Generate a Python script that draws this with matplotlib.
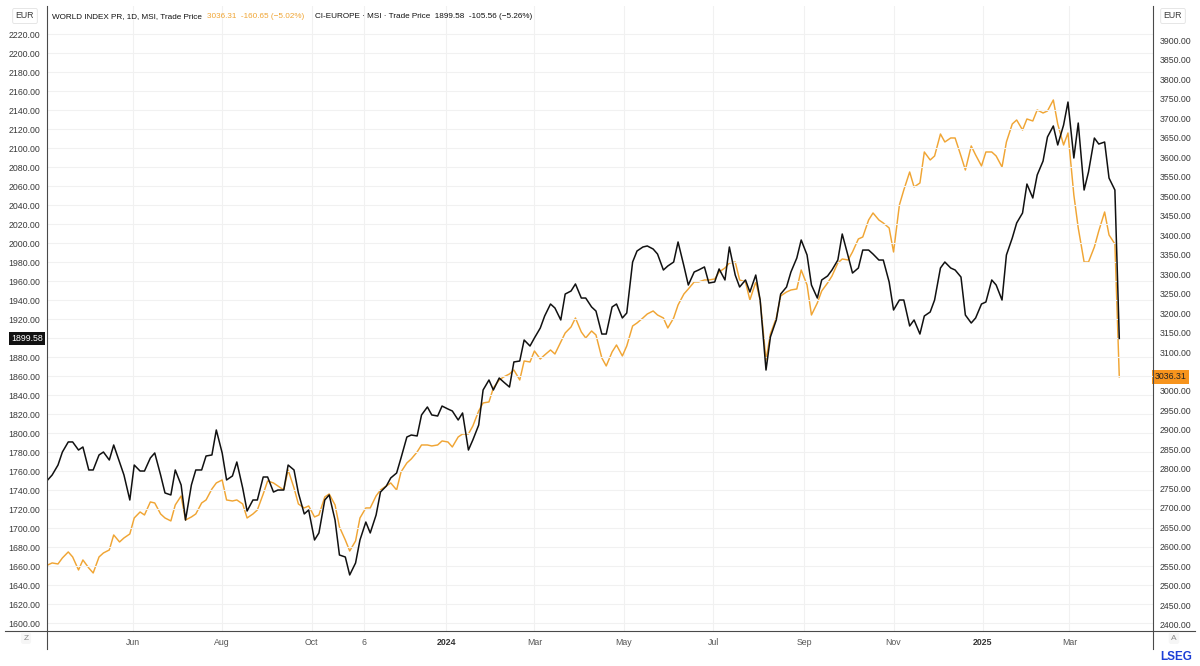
import pandas as pd
import matplotlib
matplotlib.use("Agg")
import matplotlib.pyplot as plt
import matplotlib.dates as mdates
from matplotlib.lines import Line2D

plt.rcParams['font.family'] = ['Liberation Sans', 'DejaVu Sans']

# -----------------------------
# Data: Tuesday and Friday closes, 4 Apr 2023 - 4 Apr 2025
# -----------------------------
tue = pd.date_range('2023-04-04', '2025-04-04', freq='W-TUE')
fri = pd.date_range('2023-04-04', '2025-04-04', freq='W-FRI')
dates = tue.union(fri)

# CI-EUROPE (left axis, EUR)
europe = [
    1750.6, 1755.8, 1766.3, 1780.0, 1790.6, 1790.6, 1782.1, 1785.3, 1761.1, 1761.1,
    1776.9, 1780.0, 1771.6, 1787.4, 1769.5, 1755.8, 1729.5, 1766.3, 1760.0, 1760.0,
    1773.7, 1779.0, 1755.8, 1736.9, 1734.8, 1761.1, 1745.3, 1708.4, 1745.3, 1761.1,
    1761.1, 1775.8, 1776.9, 1803.2, 1779.0, 1750.6, 1754.8, 1769.5, 1742.1, 1717.9,
    1729.5, 1729.5, 1753.7, 1753.7, 1737.9, 1740.0, 1740.0, 1766.3, 1761.1, 1736.9,
    1714.8, 1719.0, 1687.4, 1694.8, 1729.5, 1734.8, 1708.4, 1671.6, 1669.5, 1650.6,
    1663.2, 1687.4, 1706.3, 1694.8, 1713.7, 1737.9, 1744.2, 1752.7, 1757.9, 1773.7,
    1795.8, 1797.9, 1796.9, 1819.0, 1827.4, 1819.0, 1817.9, 1828.4, 1825.3, 1823.2,
    1813.7, 1821.1, 1782.1, 1792.7, 1808.4, 1845.3, 1855.8, 1845.3, 1857.9, 1853.7,
    1848.4, 1874.8, 1875.8, 1897.9, 1891.6, 1900.0, 1910.5, 1923.2, 1935.8, 1931.6,
    1919.0, 1946.3, 1949.5, 1956.9, 1942.1, 1942.1, 1932.7, 1928.4, 1904.2, 1904.2,
    1932.7, 1935.8, 1921.1, 1926.3, 1980.0, 1991.6, 1995.8, 1996.9, 1993.7, 1988.4,
    1971.6, 1975.8, 1980.0, 2001.1, 1975.8, 1955.8, 1969.5, 1971.6, 1974.8, 1957.9,
    1959.0, 1972.7, 1961.1, 1995.8, 1966.3, 1953.7, 1961.1, 1948.4, 1966.3, 1940.0,
    1866.3, 1901.1, 1919.0, 1946.3, 1953.7, 1969.5, 1984.2, 2003.2, 1987.4, 1955.8,
    1942.1, 1961.1, 1965.3, 1971.6, 1982.1, 2009.5, 1986.3, 1968.4, 1973.7, 1992.6,
    1992.6, 1988.4, 1982.1, 1982.1, 1959.0, 1929.5, 1940.0, 1940.0, 1912.7, 1919.0,
    1904.2, 1923.2, 1927.4, 1940.0, 1973.7, 1980.0, 1973.7, 1971.6, 1964.2, 1924.2,
    1915.8, 1921.1, 1935.8, 1937.9, 1961.1, 1955.8, 1940.0, 1987.4, 2005.3, 2021.1,
    2031.6, 2062.1, 2047.4, 2071.6, 2086.3, 2111.6, 2123.2, 2103.2, 2124.2, 2148.4,
    2089.5, 2126.3, 2055.8, 2074.8, 2110.5, 2104.2, 2106.3, 2068.4, 2055.8, 1899.58,
]

# WORLD INDEX PR (right axis, EUR)
world = [
    2553.9, 2559.1, 2556.5, 2571.9, 2587.3, 2574.5, 2541.1, 2566.8, 2546.2, 2533.4,
    2574.5, 2584.7, 2592.4, 2630.9, 2612.9, 2623.2, 2633.4, 2674.4, 2689.8, 2682.1,
    2715.5, 2712.9, 2684.7, 2674.4, 2666.8, 2707.8, 2730.9, 2669.3, 2677.0, 2684.7,
    2712.9, 2720.6, 2748.8, 2764.2, 2771.9, 2720.6, 2718.0, 2720.6, 2710.3, 2674.4,
    2684.7, 2695.0, 2736.0, 2769.3, 2764.2, 2756.5, 2746.2, 2797.5, 2751.4, 2710.3,
    2700.1, 2705.2, 2677.0, 2682.1, 2728.3, 2736.0, 2707.8, 2651.4, 2618.0, 2589.8,
    2615.5, 2674.4, 2700.1, 2700.1, 2730.9, 2746.2, 2756.5, 2764.2, 2746.2, 2792.4,
    2815.5, 2825.7, 2843.7, 2861.6, 2861.6, 2859.1, 2861.6, 2871.9, 2869.3, 2856.5,
    2882.1, 2889.8, 2889.8, 2910.3, 2948.8, 2969.3, 2971.9, 3007.8, 3028.3, 3036.0,
    3043.7, 3053.9, 3028.3, 3077.0, 3074.4, 3102.6, 3082.1, 3092.4, 3105.2, 3094.9,
    3125.7, 3148.8, 3164.2, 3187.2, 3151.4, 3136.0, 3153.9, 3143.7, 3084.7, 3064.2,
    3100.1, 3118.0, 3089.8, 3115.5, 3166.7, 3174.4, 3187.2, 3197.5, 3205.2, 3194.9,
    3187.2, 3161.6, 3187.2, 3220.6, 3248.8, 3261.6, 3279.6, 3279.6, 3284.7, 3284.7,
    3287.2, 3305.2, 3315.4, 3328.3, 3330.8, 3284.7, 3279.6, 3233.4, 3279.6, 3233.4,
    3079.6, 3146.2, 3187.2, 3243.7, 3253.9, 3259.0, 3261.6, 3310.3, 3271.9, 3194.9,
    3225.7, 3256.5, 3277.0, 3294.9, 3328.3, 3338.5, 3336.0, 3356.5, 3389.8, 3394.9,
    3438.5, 3456.5, 3438.5, 3430.8, 3418.0, 3356.5, 3477.0, 3515.4, 3561.6, 3523.1,
    3533.4, 3612.9, 3592.4, 3602.6, 3659.0, 3638.5, 3648.8, 3648.8, 3602.6, 3566.7,
    3628.3, 3605.2, 3577.0, 3612.9, 3612.9, 3602.6, 3574.4, 3638.5, 3684.7, 3694.9,
    3669.3, 3697.5, 3692.4, 3720.6, 3712.9, 3718.0, 3746.2, 3684.7, 3630.8, 3661.6,
    3502.6, 3418.0, 3330.8, 3330.8, 3369.3, 3410.3, 3459.0, 3400.1, 3377.0, 3036.31,
]

# axis ticks
left_ticks = list(range(1600, 2221, 20))
right_ticks = list(range(2400, 3901, 50))
date_ticks = ['2023-06-01', '2023-08-01', '2023-10-01', '2023-11-06', '2024-01-01',
              '2024-03-01', '2024-05-01', '2024-07-01', '2024-09-01', '2024-11-01',
              '2025-01-01', '2025-03-01']
date_labels = ['Jun', 'Aug', 'Oct', '6', '2024', 'Mar', 'May', 'Jul', 'Sep', 'Nov',
               '2025', 'Mar']

ORANGE = '#F0A534'
BLACK = '#111111'
GRID = '#f1f1f1'
TXT = '#3a3a3a'

# -----------------------------
# Figure
# -----------------------------
W, H = 1200, 666
fig = plt.figure(figsize=(W / 100, H / 100), dpi=100)
fx = lambda px: px / W
fy = lambda py: 1 - py / H

ax = fig.add_axes([fx(47), fy(631), fx(1153) - fx(47), fy(6) - fy(631)])
ax2 = ax.twinx()

# orange series on the right scale, black one on the left scale (drawn on top)
ax.plot(dates, world, color=ORANGE, lw=1.05, solid_joinstyle='round')
ax2.plot(dates, europe, color=BLACK, lw=1.1, solid_joinstyle='round')

ax.set_ylim(2384.6, 3987.2)
ax2.set_ylim(1591.6, 2249.5)
ax.set_xlim(mdates.date2num(pd.Timestamp('2023-04-03 12:00')),
            mdates.date2num(pd.Timestamp('2025-04-27')))

# tick labels hidden under the last-value tags are left empty
def tick_text(v, last, step):
    return '' if abs(v - last) < step * 0.6 else f'{v:.2f}'

ax.yaxis.tick_right()
ax2.yaxis.tick_left()
ax.set_yticks(right_ticks)
ax.set_yticklabels([tick_text(v, world[-1], 50) for v in right_ticks])
ax2.set_yticks(left_ticks)
ax2.set_yticklabels([tick_text(v, europe[-1], 20) for v in left_ticks])
ax.tick_params(axis='y', length=0, pad=5, labelsize=6.3, labelcolor=TXT,
               left=False, labelleft=False, right=False, labelright=True)
ax2.tick_params(axis='y', length=0, pad=5, labelsize=6.3, labelcolor=TXT,
                right=False, labelright=False, left=False, labelleft=True)

ax.set_xticks([mdates.date2num(pd.Timestamp(d)) for d in date_ticks])
ax.set_xticklabels(date_labels)
ax.tick_params(axis='x', length=0, pad=5, labelsize=6.3, labelcolor='#555555')
for lab in ax.get_xticklabels():
    if lab.get_text() in ('2024', '2025'):
        lab.set_fontweight('bold')
        lab.set_color('#333333')

# faint grid
for v in left_ticks:
    ax2.axhline(v, color=GRID, lw=0.8, zorder=0)
ax.grid(axis='x', color=GRID, lw=0.8)
ax.set_axisbelow(True)

for a in (ax, ax2):
    for s in a.spines.values():
        s.set_visible(False)

# frame lines (also running into the margins)
line_kw = dict(transform=fig.transFigure, color='#4a4a4a', lw=0.8)
fig.add_artist(Line2D([fx(5), fx(1195)], [fy(631), fy(631)], **line_kw))
fig.add_artist(Line2D([fx(47), fx(47)], [fy(6), fy(649)], **line_kw))
fig.add_artist(Line2D([fx(1153), fx(1153)], [fy(6), fy(649)], **line_kw))

# last value tags
ax2.text(-0.0035, europe[-1], f'{europe[-1]:.2f}', transform=ax2.get_yaxis_transform(),
         ha='right', va='center', fontsize=6.3, color='white', zorder=10,
         bbox=dict(boxstyle='square,pad=0.25', fc=BLACK, ec='none'))
ax.text(1.0015, world[-1], f'{world[-1]:.2f}', transform=ax.get_yaxis_transform(),
        ha='left', va='center', fontsize=6.3, color='#222222', zorder=10,
        bbox=dict(boxstyle='square,pad=0.25', fc='#F7941D', ec='none'))

# header
hdr = dict(fontsize=5.9, va='center')
t1 = fig.text(fx(52), fy(17), 'WORLD INDEX PR, 1D, MSI, Trade Price', color=BLACK, **hdr)
t2 = fig.text(0, 0, f'{world[-1]:.2f}  -160.65 (\u22125.02%)', color=ORANGE, **hdr)
t3 = fig.text(0, 0, f'CI-EUROPE \u00b7 MSI \u00b7 Trade Price  {europe[-1]:.2f}  -105.56 (\u22125.26%)',
              color=BLACK, **hdr)
fig.canvas.draw()
r = fig.canvas.get_renderer()
bb1 = t1.get_window_extent(r)
t2.set_position((bb1.x1 / W + fx(5), fy(17)))
bb2 = t2.get_window_extent(r)
t3.set_position((bb2.x1 / W + fx(11), fy(17)))

# currency boxes and corner buttons
box = dict(boxstyle='round,pad=0.35,rounding_size=0.2', fc='white', ec='#e2e2e2', lw=0.6)
fig.text(fx(25), fy(16), 'EUR', ha='center', va='center', fontsize=6.3, color=TXT, bbox=box)
fig.text(fx(1173), fy(16), 'EUR', ha='center', va='center', fontsize=6.3, color=TXT, bbox=box)
small = dict(boxstyle='round,pad=0.3', fc='#f6f6f6', ec='none')
fig.text(fx(26), fy(638), 'Z', ha='center', va='center', fontsize=6, color='#888888', bbox=small)
fig.text(fx(1174), fy(638), 'A', ha='center', va='center', fontsize=6, color='#888888', bbox=small)

# logo
fig.text(fx(1192), fy(657), 'LSEG', ha='right', va='center', fontsize=8.5,
         fontweight='bold', color='#1d3fd6')

fig.savefig('out.png', dpi=100, facecolor='white')
